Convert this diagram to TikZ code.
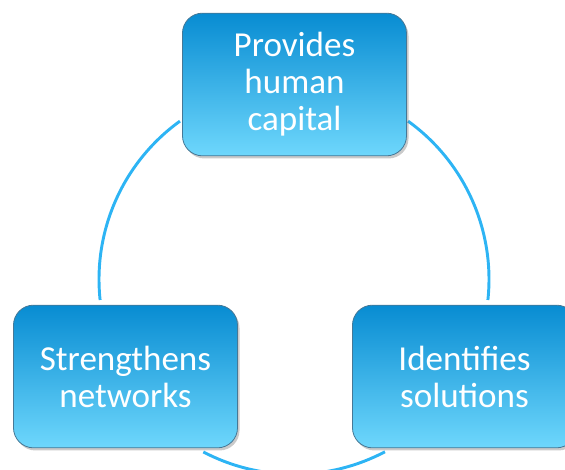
\documentclass[tikz,border=0pt]{standalone}
\usepackage{fontspec}
\setmainfont{Carlito}
\usetikzlibrary{shadows}
\definecolor{ringblue}{RGB}{45,180,244}
\definecolor{boxtop}{RGB}{8,140,210}
\definecolor{boxbot}{RGB}{110,215,252}
\definecolor{boxedge}{RGB}{70,120,150}
\tikzset{
  cyclebox/.style={draw=boxedge, line width=0.6pt, rounded corners=15pt,
    top color=boxtop, bottom color=boxbot,
    minimum width=168pt, minimum height=107pt, align=center,
    text=white, font=\fontsize{26.3}{27.75}\selectfont,
    drop shadow={shadow xshift=1.5pt, shadow yshift=-2pt, opacity=0.35, fill=black!60}},
  ring/.style={draw=ringblue, line width=2.2pt}
}
\begin{document}
\begin{tikzpicture}[x=0.75pt,y=-0.75pt]
\useasboundingbox (0,0) rectangle (565,470);
\coordinate (c) at (294,279.3);
\draw[ring] (c) ++(-125.8:195) arc[start angle=-125.8, end angle=-186.1, radius=195];
\draw[ring] (c) ++(-54.2:195) arc[start angle=-54.2, end angle=6.1, radius=195];
\draw[ring] (c) ++(-242.3:195) arc[start angle=-242.3, end angle=-297.8, radius=195];
\node[cyclebox] (top) at (294.5,84.5) {Provides\\human\\capital};
\node[cyclebox] (left) at (125.5,376.5) {Strengthens\\networks};
\node[cyclebox] (right) at (464.5,376.5) {Identifies\\solutions};
\end{tikzpicture}
\end{document}
